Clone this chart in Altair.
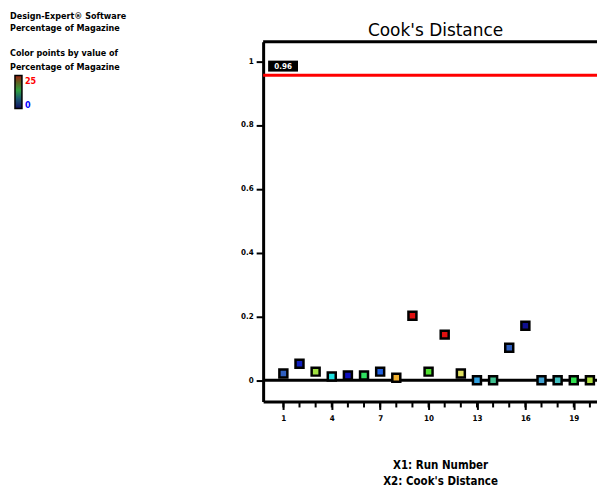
import altair as alt
import pandas as pd

# ---------------- data ----------------
runs = list(range(1, 21))
cooks_distance = [0.021, 0.052, 0.027, 0.012, 0.015, 0.015, 0.027, 0.008, 0.202, 0.027,
                  0.143, 0.021, 0.0, 0.0, 0.102, 0.171, 0.0, 0.0, 0.0, 0.0]
point_colors = ["#3060c0", "#1020c0", "#a0e040", "#20e0e0", "#1010c0", "#30e060", "#2060e0",
                "#f0b030", "#e01010", "#50e030", "#e01010", "#e0e060", "#30a0e0", "#40c090",
                "#3060c0", "#101090", "#40a0d0", "#40c0c0", "#30e050", "#b0e040"]
x_tick_values = [1, 4, 7, 10, 13, 16, 19]
y_tick_values = [0, 0.2, 0.4, 0.6, 0.8, 1]
limit_value = [0.956]
limit_label = "0.96"
chart_title = "Cook's Distance"
x_title_lines = ["X1: Run Number", "X2: Cook's Distance"]
legend_lines = ["Design-Expert® Software", "Percentage of Magazine",
                "Color points by value of", "Percentage of Magazine"]
legend_high = "25"
legend_low = "0"

W, H = 335, 361
FONT = "DejaVu Sans Condensed"

df = pd.DataFrame({"run": runs, "cooks": cooks_distance, "color": point_colors})
one = pd.DataFrame({"a": [0]})

xscale = alt.Scale(domain=[-0.254, 20.44], nice=False, zero=False)
yscale = alt.Scale(domain=[-0.0665, 1.061], nice=False, zero=False)

xaxis = alt.Axis(values=x_tick_values, title=None, grid=False, domainColor="black",
                 domainWidth=3, tickColor="black", tickWidth=2, tickSize=8,
                 labelFont=FONT, labelFontWeight="bold", labelFontSize=8,
                 labelColor="black", labelPadding=5)
yaxis = alt.Axis(values=y_tick_values, title=None, grid=False, domainColor="black",
                 domainWidth=3, tickColor="black", tickWidth=2, tickSize=7,
                 labelFont=FONT, labelFontWeight="bold", labelFontSize=8,
                 labelColor="black", labelPadding=3, format=".1~f")

points = alt.Chart(df).mark_square(size=64, stroke="black", strokeWidth=2.5, opacity=1).encode(
    x=alt.X("run:Q", scale=xscale, axis=xaxis),
    y=alt.Y("cooks:Q", scale=yscale, axis=yaxis),
    fill=alt.Fill("color:N", scale=None),
)

minor = alt.Chart(df).mark_rule(color="black", strokeWidth=2).encode(
    x=alt.X("run:Q", scale=xscale),
    y=alt.value(H + 1),
    y2=alt.value(H + 6),
)

zero_line = alt.Chart(pd.DataFrame({"v": [0]})).mark_rule(color="black", strokeWidth=3).encode(
    y=alt.Y("v:Q", scale=yscale)
)
limit_line = alt.Chart(pd.DataFrame({"v": limit_value})).mark_rule(color="#ff0000", strokeWidth=3).encode(
    y=alt.Y("v:Q", scale=yscale)
)
top_line = alt.Chart(one).mark_rule(color="black", strokeWidth=3).encode(
    x=alt.value(0), x2=alt.value(W), y=alt.value(0)
)
limit_box = alt.Chart(one).mark_rect(color="black").encode(
    x=alt.value(5), x2=alt.value(35), y=alt.value(19), y2=alt.value(30)
)
limit_text = alt.Chart(one).mark_text(text=limit_label, color="white", font=FONT, fontWeight="bold",
                                      fontSize=8, align="center", baseline="middle").encode(
    x=alt.value(20), y=alt.value(25)
)

title = alt.Chart(one).mark_text(text=chart_title, font="DejaVu Sans", fontSize=17,
                                 color="black", align="center", baseline="middle").encode(
    x=alt.value(173), y=alt.value(-11)
)

layers = [zero_line, limit_line, top_line, minor, points, limit_box, limit_text, title]

for i, line in enumerate(x_title_lines):
    layers.append(alt.Chart(one).mark_text(text=line, font=FONT, fontWeight="bold", fontSize=11.5,
                                           color="black", align="center", baseline="middle").encode(
        x=alt.value(178), y=alt.value(426 + 16 * i)))

legend_y = [-26, -14, 11, 25]
for line, yy in zip(legend_lines, legend_y):
    layers.append(alt.Chart(one).mark_text(text=line, font=FONT, fontWeight="bold", fontSize=9,
                                           color="black", align="left", baseline="middle").encode(
        x=alt.value(-254), y=alt.value(yy)))

grad = alt.Chart(one).mark_rect(
    fill=alt.LinearGradient(gradient="linear", x1=0, y1=1, x2=0, y2=0, stops=[
        alt.GradientStop(color="#101060", offset=0),
        alt.GradientStop(color="#1a5a70", offset=0.3),
        alt.GradientStop(color="#30a040", offset=0.55),
        alt.GradientStop(color="#606020", offset=0.8),
        alt.GradientStop(color="#a02010", offset=1),
    ]),
    stroke="black", strokeWidth=1.5,
).encode(x=alt.value(-249), x2=alt.value(-242), y=alt.value(34), y2=alt.value(67))
layers.append(grad)
layers.append(alt.Chart(one).mark_text(text=legend_high, font=FONT, fontWeight="bold", fontSize=9,
                                       color="#ff0000", align="left", baseline="middle").encode(
    x=alt.value(-239), y=alt.value(39)))
layers.append(alt.Chart(one).mark_text(text=legend_low, font=FONT, fontWeight="bold", fontSize=9,
                                       color="#0000ff", align="left", baseline="middle").encode(
    x=alt.value(-239), y=alt.value(64)))

chart = alt.layer(*layers).properties(
    width=W, height=H,
    autosize=alt.AutoSizeParams(type="none"),
    padding={"left": 256, "top": 33, "right": 0, "bottom": 85},
).configure_view(stroke=None).configure(background="white")

chart.save("out.html", embed_options={"renderer": "svg", "actions": False})
